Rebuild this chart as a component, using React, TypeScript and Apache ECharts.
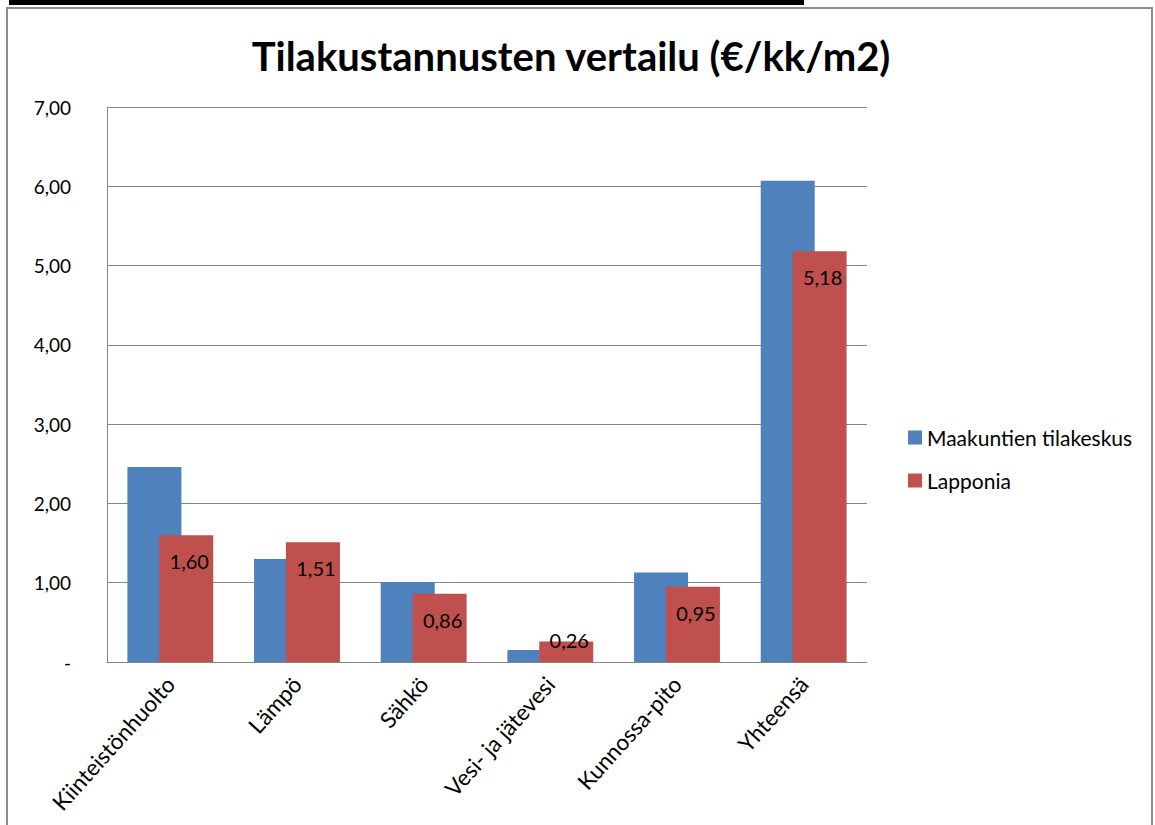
import React, { useEffect, useRef } from "react";
import * as echarts from "echarts";

const categories = ["Kiinteistönhuolto", "Lämpö", "Sähkö", "Vesi- ja jätevesi", "Kunnossa-pito", "Yhteensä"];
const maakuntien = [2.46, 1.30, 1.01, 0.15, 1.13, 6.07];
const lapponia = [1.60, 1.51, 0.86, 0.26, 0.95, 5.18];
const seriesNames = ["Maakuntien tilakeskus", "Lapponia"];
const titleText = "Tilakustannusten vertailu (€/kk/m2)";

const FONT = "Lato, 'Open Sans', sans-serif";

function fmt(v: number) {
  if (v === 0) return "-";
  return v.toFixed(2).replace(".", ",");
}

export default function App() {
  const ref = useRef<HTMLDivElement>(null);
  useEffect(() => {
    if (!ref.current) return;
    const chart = echarts.init(ref.current, null, { renderer: "svg" });
    chart.setOption({
      animation: false,
      backgroundColor: "#ffffff",
      textStyle: { fontFamily: FONT },
      graphic: [
        { type: "rect", shape: { x: 9, y: 0, width: 795, height: 5 }, style: { fill: "#000" } },
        {
          type: "rect",
          shape: { x: 7, y: 8, width: 1145, height: 840 },
          style: { fill: "none", stroke: "#8c8c8c", lineWidth: 2 },
        },
      ],
      title: {
        text: titleText,
        left: 566,
        textAlign: "center",
        top: 31,
        textStyle: { fontFamily: FONT, fontSize: 40, fontWeight: "bold", color: "#000" },
      },
      legend: {
        orient: "vertical",
        left: 903,
        top: 422,
        itemWidth: 14,
        itemHeight: 14,
        itemGap: 22,
        itemStyle: { borderWidth: 0 },
        icon: "rect",
        textStyle: { fontFamily: FONT, fontSize: 21, color: "#000" },
        data: seriesNames,
      },
      grid: { left: 107, right: 288, top: 107, bottom: 163, containLabel: false },
      xAxis: {
        type: "category",
        data: categories,
        axisLine: { lineStyle: { color: "#868686", width: 1 } },
        axisTick: { show: false },
        axisLabel: {
          rotate: 48,
          interval: 0,
          margin: 18,
          fontFamily: FONT,
          fontSize: 22.5,
          color: "#000",
        },
      },
      yAxis: {
        type: "value",
        min: 0,
        max: 7,
        interval: 1,
        axisLine: { show: true, lineStyle: { color: "#868686" } },
        axisTick: { show: false },
        splitLine: { lineStyle: { color: "#868686" } },
        axisLabel: {
          formatter: (v: number) => fmt(v),
          margin: 36,
          fontFamily: FONT,
          fontSize: 19,
          color: "#000",
        },
      },
      series: [
        {
          name: seriesNames[0],
          type: "bar",
          data: maakuntien,
          barWidth: 54,
          barGap: "-41%",
          itemStyle: { color: "#4F81BD" },
        },
        {
          name: seriesNames[1],
          type: "bar",
          barWidth: 54,
          barGap: "-41%",
          itemStyle: { color: "#C0504D" },
          data: lapponia.map((v) =>
            v < 0.4
              ? { value: v, label: { position: "top", distance: -9 } }
              : { value: v }
          ),
          label: {
            show: true,
            position: "insideTop",
            distance: 16,
            offset: [3, 0],
            formatter: (p: any) => fmt(p.value),
            fontFamily: FONT,
            fontSize: 20,
            color: "#000",
          },
        },
      ],
    });
    return () => chart.dispose();
  }, []);
  return (
    <div
      ref={ref}
      style={{ position: "absolute", left: 0, top: 0, width: 1155, height: 825 }}
    />
  );
}
